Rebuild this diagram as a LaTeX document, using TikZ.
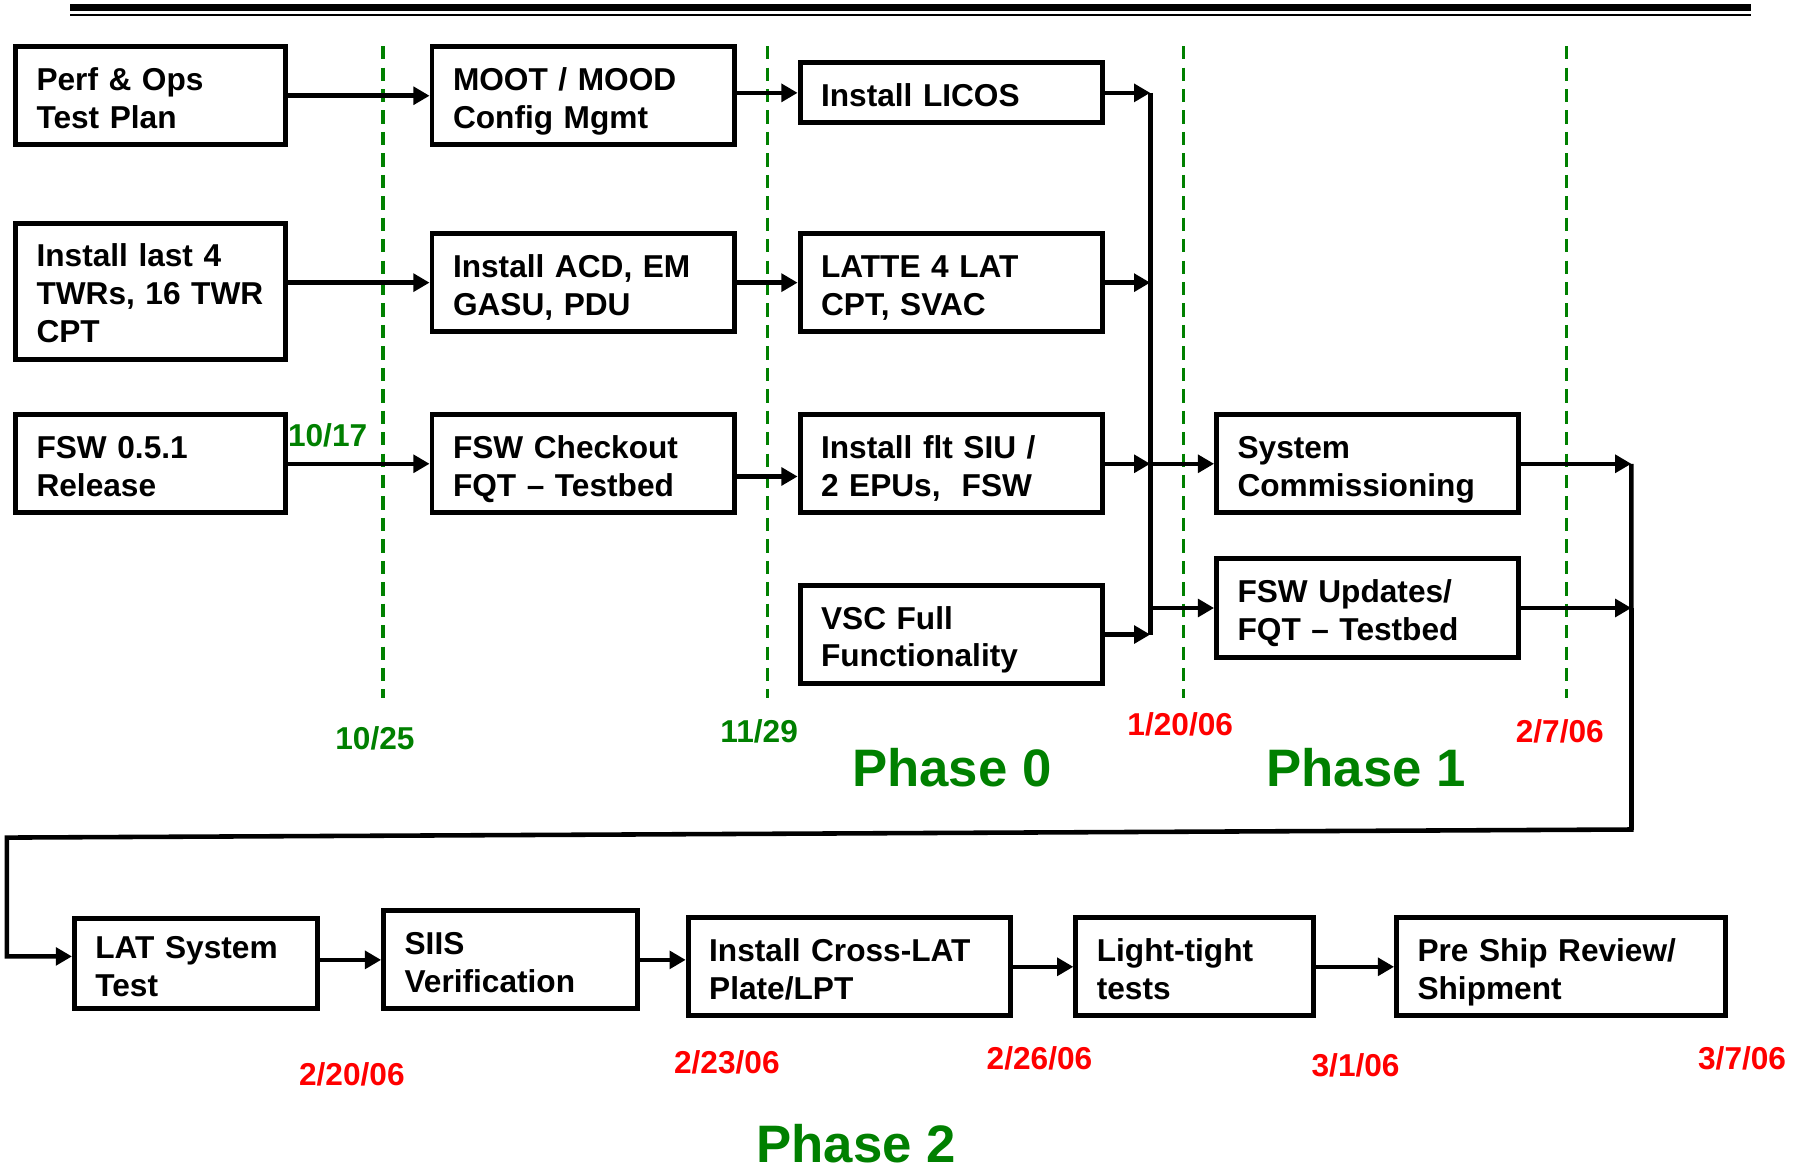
\documentclass[tikz,border=0pt]{standalone}
\usepackage{fontspec}
\setmainfont{Liberation Sans}
\usetikzlibrary{arrows.meta}
\definecolor{phasegreen}{RGB}{0,128,0}
\definecolor{datered}{RGB}{255,0,0}

\begin{document}
\begin{tikzpicture}[x=0.011537cm,y=-0.011537cm,
    box/.style={draw,line width=1.4pt,inner xsep=0.21cm,inner ysep=0pt,
        align=left,minimum height=0.981cm,
        execute at begin node={\rule{0pt}{10.9pt}},execute at end node=\strut,
        font=\fontsize{9}{10.8}\selectfont\bfseries},
    boxA/.style={box,text width=2.28cm},
    boxB/.style={box,text width=2.603cm},
    arr/.style={line width=1.3pt,-{Triangle[length=4.6pt,width=5pt]}},
    bus/.style={line width=1.4pt},
    milestone/.style={draw=phasegreen,line width=0.9pt,dash pattern=on 3.8pt off 2.3pt},
    greendate/.style={text=phasegreen,inner sep=0pt,font=\fontsize{9}{10}\selectfont\bfseries},
    reddate/.style={text=datered,inner sep=0pt,font=\fontsize{9}{10}\selectfont\bfseries},
    phase/.style={text=phasegreen,inner sep=0pt,font=\fontsize{15}{18}\selectfont\bfseries}]
    \useasboundingbox (0,0) rectangle (1568,1016);

    % rule at the top
    \draw[line width=1.9pt] (60.7,6.6) -- (1518,6.6);
    \draw[line width=0.65pt] (60.7,12.9) -- (1518,12.9);

    % milestones
    \foreach \x in {332,665,1026,1358}
        \draw[milestone] (\x,40) -- (\x,605);

    % phase 0 / phase 1
    \node[boxA] (plan) at (130.5,83) {Perf \& Ops\\Test Plan};
    \node[boxA,minimum height=1.361cm] (twr) at (130.5,252.5) {Install last 4\\TWRs, 16 TWR\\CPT};
    \node[boxA] (fsw) at (130.5,402) {FSW 0.5.1\\Release};
    \node[boxB] (moot) at (505.5,83) {MOOT / MOOD\\Config Mgmt};
    \node[boxB] (acd) at (505.5,245) {Install ACD, EM\\GASU, PDU};
    \node[boxB] (chk) at (505.5,402) {FSW Checkout\\FQT -- Testbed};
    \node[boxB,minimum height=0.6cm] (licos) at (824.5,80.5) {Install LICOS};
    \node[boxB] (latte) at (824.5,245) {LATTE 4 LAT\\CPT, SVAC};
    \node[boxB] (siu) at (824.5,402) {Install flt SIU /\\2 EPUs,~ FSW};
    \node[boxB] (vsc) at (824.5,550) {VSC Full\\Functionality};
    \node[boxB] (sysc) at (1185.5,402) {System\\Commissioning};
    \node[boxB] (upd) at (1185.5,527) {FSW Updates/\\FQT -- Testbed};

    \coordinate (lbus) at (997,0);
    \coordinate (rbus) at (1414,0);
    \coordinate (wrapR) at (1414,719);
    \coordinate (wrapL) at (6,726);

    \draw[arr] (plan.east) -- (moot.west);
    \draw[arr] (moot.east |- licos.west) -- (licos.west);
    \draw[arr] (twr.east |- acd.west) -- (acd.west);
    \draw[arr] (acd.east) -- (latte.west);
    \draw[arr] (fsw.east) -- (chk.west);
    \draw[arr] ([yshift=-0.127cm]chk.east) -- ([yshift=-0.127cm]siu.west);

    \draw[arr] (licos.east) -- (licos.east -| lbus);
    \draw[arr] (latte.east) -- (latte.east -| lbus);
    \draw[arr] (siu.east) -- (siu.east -| lbus);
    \draw[arr] (vsc.east) -- (vsc.east -| lbus);
    \draw[bus] (licos.east -| lbus) -- (vsc.east -| lbus);
    \draw[arr] (siu.east -| lbus) -- (sysc.west);
    \draw[arr] (upd.west -| lbus) -- (upd.west);

    \draw[arr] (sysc.east) -- (sysc.east -| rbus);
    \draw[arr] (upd.east) -- (upd.east -| rbus);

    % phase 2
    \node[box,text width=2.014cm,minimum height=0.9cm] (lat) at (170,835.5) {LAT System\\Test};
    \node[box,text width=2.118cm] (siis) at (442.5,832) {SIIS\\Verification};
    \node[box,text width=2.799cm] (cross) at (736,838) {Install Cross-LAT\\Plate/LPT};
    \node[box,text width=1.957cm] (light) at (1035.5,838) {Light-tight\\tests};
    \node[box,text width=2.868cm] (ship) at (1353,838) {Pre Ship Review/\\Shipment};

    \draw[arr] (sysc.east -| rbus) -- (wrapR) -- (wrapL) |- ([yshift=0.075cm]lat.west);
    \draw[bus] (upd.east -| rbus) -- (wrapR);
    \draw[arr] (lat.east |- siis.west) -- (siis.west);
    \draw[arr] (siis.east) -- (siis.east -| cross.west);
    \draw[arr] (cross.east) -- (light.west);
    \draw[arr] (light.east) -- (ship.west);

    % dates
    \node[greendate] (d1017) at (284,377) {10/17};
    \node[greendate] (d1025) at (325,640) {10/25};
    \node[greendate] (d1129) at (658,634) {11/29};
    \node[reddate] (d0120) at (1023,628) {1/20/06};
    \node[reddate] (d0207) at (1352,634) {2/7/06};
    \node[reddate] (d0220) at (305,931) {2/20/06};
    \node[reddate] (d0223) at (630,921) {2/23/06};
    \node[reddate] (d0226) at (901,917) {2/26/06};
    \node[reddate] (d0301) at (1175,923) {3/1/06};
    \node[reddate] (d0307) at (1510,917) {3/7/06};

    \node[phase] (ph0) at (825,665) {Phase 0};
    \node[phase] (ph1) at (1184,665) {Phase 1};
    \node[phase] (ph2) at (742,991) {Phase 2};
\end{tikzpicture}
\end{document}
